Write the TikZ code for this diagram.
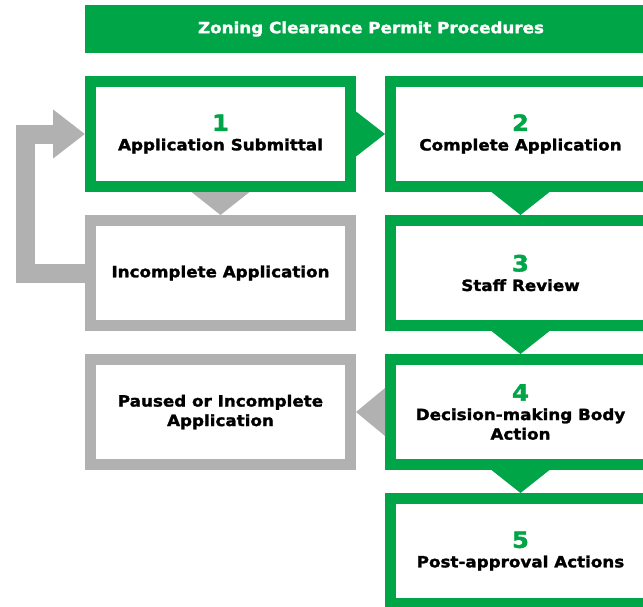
\documentclass[tikz,border=0pt]{standalone}
\usepackage{fontspec}
\setmainfont{DejaVu Sans}[FakeStretch=1.08, BoldFeatures={FakeBold=1.6}]
\usetikzlibrary{arrows.meta}
\definecolor{permit-green}{HTML}{00A547}
\definecolor{side-gray}{HTML}{B1B1B1}
\newcommand{\boxfont}{\fontsize{15.5}{19.5}\selectfont\bfseries}
\newcommand{\stepnum}[1]{{\fontsize{22.5}{22}\selectfont\color{permit-green}#1}}

\begin{document}
\begin{tikzpicture}[x=1pt, y=-1pt,
    stepbox/.style={draw=permit-green, line width=11pt, fill=white,
      minimum width=260pt, minimum height=105pt, inner sep=0pt,
      align=center, font=\boxfont},
    sidebox/.style={stepbox, draw=side-gray},
    titlebar/.style={fill=permit-green, text=white, minimum width=572pt,
      minimum height=48pt, inner sep=0pt, font=\boxfont}]
    % Flow chart, coordinates in px of the 643x606 picture, y downwards.
    %   left column centre x=220.5, right column centre x=520.5
    %   rows at y=134, 273, 412, 551 (boxes 271 x 116 outside)
    \useasboundingbox (0,0) rectangle (643,606);
    \clip (0,0) rectangle (643,606);
    \node[titlebar] (title) at (371,29) {Zoning Clearance Permit Procedures};
    \node[stepbox] (submit) at (220.5,134) {\stepnum{1}\\Application Submittal};
    \node[stepbox] (complete) at (520.5,134) {\stepnum{2}\\Complete Application};
    \node[sidebox] (incomplete) at (220.5,273) {Incomplete Application};
    \node[stepbox] (review) at (520.5,273) {\stepnum{3}\\Staff Review};
    \node[sidebox] (paused) at (220.5,412) {Paused or Incomplete\\Application};
    \node[stepbox] (decision) at (520.5,412) {\stepnum{4}\\Decision-making Body\\Action};
    \node[stepbox] (post) at (520.5,551) {\stepnum{5}\\Post-approval Actions};
    % triangles between the boxes
    \fill[side-gray] ([xshift=-29pt]submit.south) -- ([xshift=29pt]submit.south)
      -- (incomplete.north) -- cycle;
    \fill[permit-green] ([yshift=22.5pt]submit.east) -- ([yshift=-22.5pt]submit.east)
      -- (complete.west) -- cycle;
    \fill[permit-green] ([xshift=-29pt]complete.south) -- ([xshift=29pt]complete.south)
      -- (review.north) -- cycle;
    \fill[permit-green] ([xshift=-29pt]review.south) -- ([xshift=29pt]review.south)
      -- (decision.north) -- cycle;
    \fill[permit-green] ([xshift=-29pt]decision.south) -- ([xshift=29pt]decision.south)
      -- (post.north) -- cycle;
    \fill[side-gray] ([yshift=24pt]decision.west) -- ([yshift=-24pt]decision.west)
      -- (paused.east) -- cycle;
    % loop back to the submittal
    \coordinate (loopside) at (25,200);
    \draw[side-gray, line width=19pt, -{Triangle[length=32pt,width=47pt]}]
      (incomplete.west) -| (loopside) |- (submit.west);
  \end{tikzpicture}
\end{document}
